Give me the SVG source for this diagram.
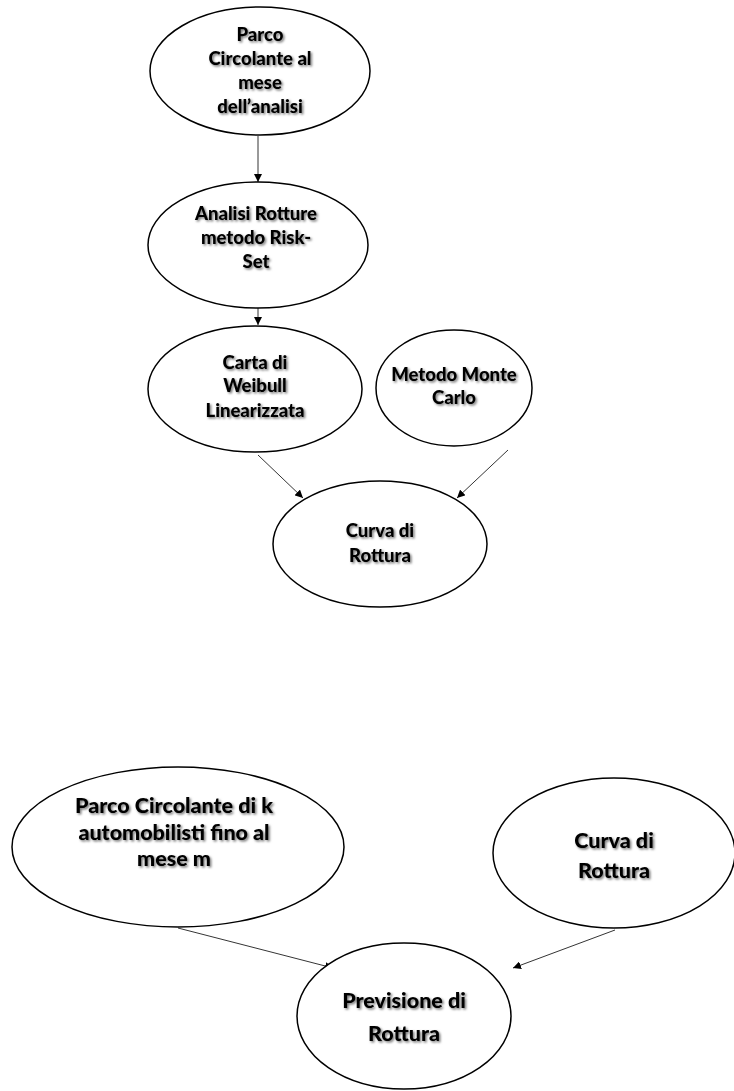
<svg xmlns="http://www.w3.org/2000/svg" width="734" height="1091" viewBox="0 0 734 1091">
  <style>
    .node ellipse { fill: #ffffff; stroke: #000000; stroke-width: 1.5; }
    .node text { font-family: Lato, "Open Sans", "Liberation Sans", sans-serif; font-weight: 900; fill: #000000; text-anchor: middle; filter: url(#shadow); }
    .s { font-size: 18.5px; }
    .l { font-size: 21.5px; }
    .edge { stroke: #000000; stroke-width: 0.8; fill: none; marker-end: url(#arrow); }
  </style>
  <defs>
    <marker id="arrow" viewBox="0 0 10 10" refX="10" refY="5" markerWidth="8" markerHeight="8" markerUnits="userSpaceOnUse" orient="auto">
      <path d="M0,0 L10,5 L0,10 z" fill="#000000"/>
    </marker>
    <filter id="shadow" x="-10%" y="-30%" width="120%" height="160%">
      <feDropShadow dx="1.5" dy="1.5" stdDeviation="1" flood-color="#000000" flood-opacity="0.55"/>
    </filter>
  </defs>
  <rect width="734" height="1091" fill="#ffffff"/>

  <g id="connectors">
    <line class="edge" x1="258" y1="136" x2="258" y2="182"/>
    <line class="edge" x1="258" y1="308" x2="258" y2="325"/>
    <line class="edge" x1="258" y1="455" x2="303" y2="498"/>
    <line class="edge" x1="508" y1="450" x2="457" y2="498"/>
    <line class="edge" x1="178" y1="928" x2="333" y2="968"/>
    <line class="edge" x1="615" y1="930" x2="513" y2="968"/>
  </g>

  <g id="parco-analisi" class="node">
    <ellipse cx="260" cy="71" rx="110" ry="64"/>
    <text class="s" x="260" y="41">Parco</text>
    <text class="s" x="260" y="65">Circolante al</text>
    <text class="s" x="260" y="89">mese</text>
    <text class="s" x="260" y="113">dell’analisi</text>
  </g>

  <g id="analisi-rotture" class="node">
    <ellipse cx="258" cy="245" rx="110" ry="63"/>
    <text class="s" x="256" y="220">Analisi Rotture</text>
    <text class="s" x="256" y="244">metodo Risk-</text>
    <text class="s" x="256" y="268">Set</text>
  </g>

  <g id="carta-weibull" class="node">
    <ellipse cx="255" cy="389" rx="107" ry="63"/>
    <text class="s" x="255" y="369">Carta di</text>
    <text class="s" x="255" y="392">Weibull</text>
    <text class="s" x="255" y="417">Linearizzata</text>
  </g>

  <g id="monte-carlo" class="node">
    <ellipse cx="454" cy="388" rx="78" ry="58"/>
    <text class="s" x="454" y="381">Metodo Monte</text>
    <text class="s" x="454" y="404">Carlo</text>
  </g>

  <g id="curva-rottura-1" class="node">
    <ellipse cx="380" cy="544" rx="107" ry="63"/>
    <text class="s" x="380" y="537">Curva di</text>
    <text class="s" x="380" y="562">Rottura</text>
  </g>

  <g id="parco-k" class="node">
    <ellipse cx="178" cy="847" rx="166" ry="80"/>
    <text class="l" x="174" y="813">Parco Circolante di k</text>
    <text class="l" x="174" y="840">automobilisti fino al</text>
    <text class="l" x="174" y="866">mese m</text>
  </g>

  <g id="curva-rottura-2" class="node">
    <ellipse cx="614" cy="853" rx="121" ry="75"/>
    <text class="l" x="614" y="848">Curva di</text>
    <text class="l" x="614" y="878">Rottura</text>
  </g>

  <g id="previsione" class="node">
    <ellipse cx="404" cy="1016" rx="107" ry="73"/>
    <text class="l" x="404" y="1008">Previsione di</text>
    <text class="l" x="404" y="1041">Rottura</text>
  </g>
</svg>
